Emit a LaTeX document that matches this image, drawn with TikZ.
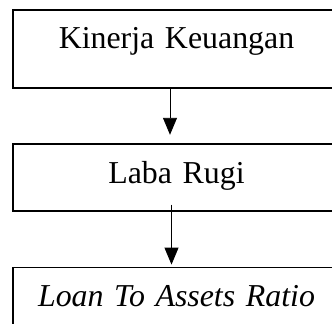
\documentclass[tikz,border=0pt]{standalone}
\usepackage{fontspec}
\setmainfont{Liberation Serif}
\usetikzlibrary{positioning, arrows.meta}

\begin{document}
\begin{tikzpicture}[x=1bp, y=1bp]
    \useasboundingbox (0,0) rectangle (332,-324);
    \tikzset{box/.style={draw, rectangle, line width=1.8bp, inner sep=0pt,
        text width=327bp, align=center, font=\fontsize{32}{38}\selectfont},
      arr/.style={line width=0.9bp, -{Triangle[length=17bp, width=14bp]}}}

    \node[box, text height=39bp, text depth=39bp, anchor=north]
      (kinerja) at (176.5,-9) {Kinerja Keuangan};
    \node[box, text height=40bp, text depth=27bp, below=54bp of kinerja]
      (laba) {Laba Rugi};
    \node[box, text height=39bp, text depth=40bp, below=55bp of laba]
      (loan) {\textit{Loan To Assets Ratio}};

    \draw[arr] ([xshift=-6.5bp]kinerja.south) -- ([xshift=-6.5bp, yshift=8bp]laba.north);
    \draw[arr] ([xshift=-5bp, yshift=7bp]laba.south) -- ([xshift=-5bp, yshift=2bp]loan.north);
  \end{tikzpicture}
\end{document}
